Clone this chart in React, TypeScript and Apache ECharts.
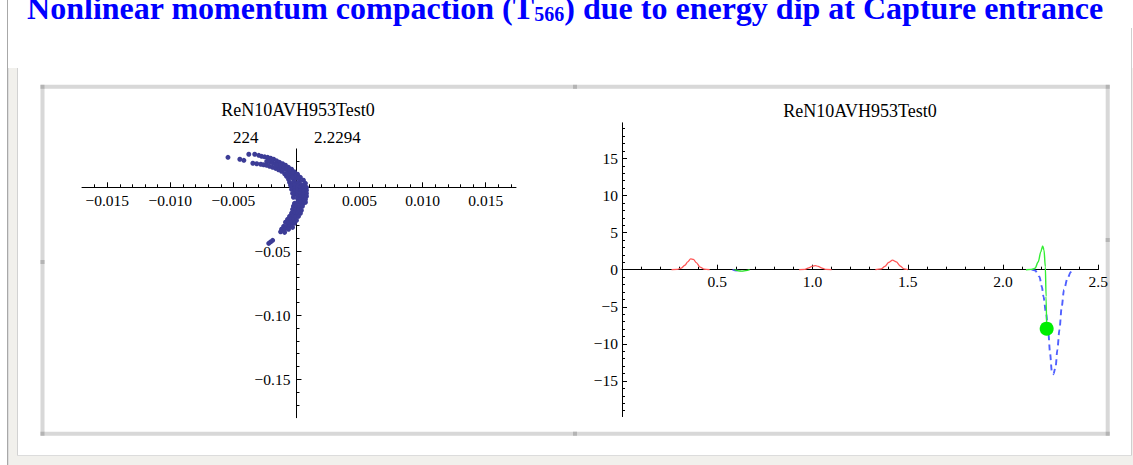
import React, { useEffect, useRef } from "react";
import * as echarts from "echarts";

const SERIF = "'Liberation Serif', 'Times New Roman', serif";

const PLOT_NAME = "ReN10AVH953Test0";
const TURN_LABEL = "224";
const POSITION_LABEL = "2.2294";

// Tick label positions
const zTicks = [-0.015, -0.01, -0.005, 0.005, 0.01, 0.015];
const deltaTicks = [-0.15, -0.1, -0.05];
const sTicks = [0.5, 1.0, 1.5, 2.0, 2.5];
const t566Ticks = [-15, -10, -5, 0, 5, 10, 15];

// Axis ranges
const zRange: [number, number] = [-0.017, 0.0174];
const deltaRange: [number, number] = [-0.18, 0.03];
const sRange: [number, number] = [0, 2.5];
const t566Range: [number, number] = [-19.8, 19.8];

// Longitudinal phase space of the bunch: [z, delta]
const particles: [number, number][] = [
  [-0.00543, 0.0234], [-0.00449, 0.0219], [-0.00417, 0.0211], [-0.00378, 0.0258],
  [-0.00331, 0.0258], [-0.00346, 0.0188],
  [-0.00299, 0.025], [-0.00276, 0.0242], [-0.00252, 0.0238], [-0.00228, 0.0234],
  [-0.00205, 0.0227], [-0.00181, 0.0219], [-0.00157, 0.0207], [-0.00134, 0.0195],
  [-0.0011, 0.0184], [-0.00087, 0.0172], [-0.00063, 0.0156], [-0.00039, 0.0141],
  [-0.00016, 0.0121], [0.00008, 0.0102], [0.00031, 0.0078], [0.00055, 0.0055],
  [0.00071, 0.0031],
  [-0.00315, 0.0184], [-0.00283, 0.018], [-0.0026, 0.0176], [-0.00236, 0.0172],
  [-0.00213, 0.0164], [-0.00189, 0.0156], [-0.00165, 0.0148], [-0.00142, 0.0137],
  [-0.00118, 0.0125], [-0.00094, 0.0105], [-0.00079, 0.0086], [-0.00063, 0.0063],
  [-0.00055, 0.0039], [-0.00047, 0.0016],
  [-0.00236, 0.0203], [-0.00213, 0.0199], [-0.00189, 0.0191], [-0.00165, 0.018],
  [-0.00142, 0.0168], [-0.00118, 0.0156], [-0.00094, 0.0141], [-0.00071, 0.0129],
  [-0.00047, 0.0117], [-0.00024, 0.0094], [0, 0.007], [0.00024, 0.0047],
  [-0.00102, 0.0164], [-0.00079, 0.0148], [-0.00055, 0.0137], [-0.00031, 0.0109],
  [-0.00047, 0.0086], [-0.00024, 0.0063], [-0.00071, 0.0102], [-0.00157, 0.0172],
  [-0.00197, 0.0211], [-0.0022, 0.0211], [-0.00126, 0.0176], [-0.00008, 0.0086],
  [0.00016, 0.0078], [-0.00031, 0.0078], [-0.00016, 0.0039], [0.00008, 0.0031],
  [0.00031, 0.0023], [-0.00031, 0.0031],
  [-0.00039, 0.0008], [-0.00039, -0.0016], [-0.00016, 0.0016], [-0.00016, -0.0008],
  [-0.00016, -0.0031], [-0.00016, -0.0055], [0.00008, 0.0008], [0.00008, -0.0016],
  [0.00008, -0.0039], [0.00008, -0.0063], [0.00008, -0.0086], [0.00031, 0],
  [0.00031, -0.0023], [0.00031, -0.0047], [0.00031, -0.007], [0.00031, -0.0094],
  [0.00055, 0.0016], [0.00055, -0.0008], [0.00055, -0.0031], [0.00055, -0.0055],
  [0.00055, -0.0078], [0.00055, -0.0102], [0.00079, 0], [0.00079, -0.0023],
  [0.00079, -0.0047], [0.00079, -0.007], [0.00071, -0.0094], [-0.00024, -0.0078],
  [-0.00031, -0.0047],
  [-0.00016, -0.0125], [0.00008, -0.0117], [0.00031, -0.0117], [0.00055, -0.0125],
  [0.00071, -0.0117], [-0.00024, -0.0148], [0, -0.0148], [0.00024, -0.0148],
  [0.00047, -0.0148], [-0.00031, -0.0172], [-0.00008, -0.018], [0.00016, -0.0172],
  [0.00039, -0.018], [-0.00039, -0.0203], [-0.00016, -0.0203], [0.00008, -0.0203],
  [0.00031, -0.0203], [-0.00055, -0.0227], [-0.00031, -0.0227], [-0.00008, -0.0234],
  [0.00016, -0.0227], [-0.00071, -0.025], [-0.00047, -0.025], [-0.00024, -0.0258],
  [0, -0.0258], [-0.00087, -0.0273], [-0.00063, -0.0281], [-0.00039, -0.0281],
  [-0.00016, -0.0281], [-0.00102, -0.0305], [-0.00079, -0.0305], [-0.00055, -0.0305],
  [-0.00031, -0.0313], [-0.00118, -0.0328], [-0.00094, -0.0328], [-0.00063, -0.0328],
  [-0.00126, -0.0348], [-0.00094, -0.0352], [-0.00189, -0.0414], [-0.00205, -0.0427],
  [-0.0022, -0.0438],
];

// T566 along the beamline: [s, value]
const redBumpA: [number, number][] = [
  [0.26, 0], [0.29, 0.05], [0.31, 0.2], [0.33, 0.6], [0.345, 1.05], [0.36, 1.45],
  [0.375, 1.4], [0.39, 0.95], [0.41, 0.35], [0.43, 0.08], [0.46, 0],
];
const redBumpB: [number, number][] = [
  [0.93, 0], [0.96, 0.05], [0.98, 0.25], [1.0, 0.48], [1.015, 0.55], [1.03, 0.45],
  [1.05, 0.2], [1.07, 0.05], [1.1, 0],
];
const redBumpC: [number, number][] = [
  [1.33, 0], [1.36, 0.1], [1.38, 0.45], [1.4, 1.0], [1.42, 1.3], [1.44, 1.05],
  [1.46, 0.5], [1.48, 0.12], [1.5, 0],
];
const greenSmall: [number, number][] = [
  [0.59, 0], [0.61, -0.15], [0.63, -0.2], [0.65, -0.12], [0.67, 0],
];
const blueSmall: [number, number][] = [[0.58, 0], [0.6, -0.12], [0.62, 0]];
const greenRise: [number, number][] = [
  [2.12, 0], [2.15, 0.05], [2.168, 0.2], [2.185, 1.08], [2.198, 2.4], [2.208, 3.2],
  [2.215, 2.65], [2.222, 0.4], [2.226, -3.6], [2.229, -7.95],
];
const blueDip: [number, number][] = [
  [2.15, 0], [2.168, -0.1], [2.191, -0.94], [2.204, -2.3], [2.212, -3.6], [2.226, -5.9],
  [2.238, -8.6], [2.247, -11.3], [2.256, -13.7], [2.264, -14.1], [2.276, -13.1],
  [2.285, -10.8], [2.296, -8.1], [2.308, -5.0], [2.32, -2.7], [2.338, -1.2],
  [2.356, -0.3], [2.366, 0],
];
const greenMarker: [number, number][] = [[2.229, -7.95]];

// Plot rectangles (pixels)
const leftGrid = { left: 82, top: 148.9, width: 434, height: 268.8 };
const rightGrid = { left: 622, top: 122.8, width: 476.3, height: 293.8 };

const minus = (s: string) => s.replace("-", "\u2212");

function makeFormatter(ticks: number[], digits: number) {
  return (v: number) => {
    if (!ticks.some((t) => Math.abs(t - v) < 1e-9)) return "";
    return minus(v.toFixed(digits));
  };
}

// Distance from the low edge of an axis to where the value 0 sits, so the
// perpendicular axis can be drawn through the origin like Mathematica's Axes.
function zeroOffset(range: [number, number], length: number) {
  const [lo, hi] = range;
  if (lo >= 0) return 0;
  return -((0 - lo) / (hi - lo)) * length;
}

function valueAxis(
  gridIndex: number,
  range: [number, number],
  splitNumber: number,
  ticks: number[],
  digits: number,
  margin: number,
  offset: number
) {
  return {
    type: "value",
    gridIndex,
    min: range[0],
    max: range[1],
    splitNumber,
    offset,
    z: 3,
    axisLine: { show: true, onZero: false, lineStyle: { color: "#000", width: 1 } },
    axisTick: {
      show: true,
      inside: true,
      length: 5,
      customValues: ticks,
      lineStyle: { color: "#000", width: 1 },
    },
    minorTick: { show: true, splitNumber: 5, length: 3, lineStyle: { color: "#000", width: 1 } },
    axisLabel: {
      show: true,
      customValues: ticks,
      formatter: makeFormatter(ticks, digits),
      margin,
      color: "#000",
      fontFamily: SERIF,
      fontSize: 15.5,
    },
    splitLine: { show: false },
  };
}

function handle(x: number, y: number) {
  return {
    type: "rect",
    silent: true,
    shape: { x: x - 2, y: y - 2, width: 4, height: 4 },
    style: { fill: "#b4b4b4" },
  };
}

function label(text: string, x: number, y: number, size: number) {
  return {
    type: "text",
    silent: true,
    x,
    y,
    style: {
      text,
      fill: "#000",
      font: `${size}px ${SERIF}`,
      align: "center",
      verticalAlign: "middle",
    },
  };
}

export default function App() {
  const ref = useRef<HTMLDivElement>(null);

  useEffect(() => {
    if (!ref.current) return;
    const chart = echarts.init(ref.current, undefined, { renderer: "svg" });

    const lineSeries = (data: [number, number][], color: string, width: number, dashed = false) => ({
      type: "line",
      xAxisIndex: 1,
      yAxisIndex: 1,
      data,
      z: 4,
      showSymbol: false,
      symbol: "none",
      smooth: 0.3,
      smoothMonotone: "x",
      lineStyle: { color, width, type: dashed ? [6, 4] : "solid" },
    });

    chart.setOption({
      animation: false,
      backgroundColor: "transparent",
      grid: [
        { ...leftGrid, outerBoundsMode: "none" },
        { ...rightGrid, outerBoundsMode: "none" },
      ],
      xAxis: [
        valueAxis(0, zRange, 7, zTicks, 3, 5, zeroOffset(deltaRange, leftGrid.height)),
        valueAxis(1, sRange, 5, sTicks, 1, 4, zeroOffset(t566Range, rightGrid.height)),
      ],
      yAxis: [
        valueAxis(0, deltaRange, 4, deltaTicks, 2, 6, zeroOffset(zRange, leftGrid.width)),
        valueAxis(1, t566Range, 8, t566Ticks, 0, 4, zeroOffset(sRange, rightGrid.width)),
      ],
      series: [
        {
          type: "scatter",
          xAxisIndex: 0,
          yAxisIndex: 0,
          data: particles,
          z: 4,
          symbol: "circle",
          symbolSize: 5,
          itemStyle: { color: "#3c3c96", opacity: 1 },
        },
        lineSeries(redBumpA, "#ff5555", 1.3),
        lineSeries(redBumpB, "#ff5555", 1.3),
        lineSeries(redBumpC, "#ff5555", 1.3),
        lineSeries(blueSmall, "#5a5aff", 1.6, true),
        lineSeries(greenSmall, "#22dd22", 1.3),
        lineSeries(blueDip, "#5060ff", 1.9, true),
        lineSeries(greenRise, "#33ee33", 1.4),
        {
          type: "scatter",
          xAxisIndex: 1,
          yAxisIndex: 1,
          data: greenMarker,
          z: 5,
          symbol: "circle",
          symbolSize: 14,
          itemStyle: { color: "#00ee00", opacity: 1 },
        },
      ],
      graphic: [
        { type: "rect", silent: true, z: -100, shape: { x: 8, y: 68, width: 1125, height: 397 }, style: { fill: "#f1f0ec" } },
        { type: "rect", silent: true, z: -99, shape: { x: 17, y: 28, width: 1114.5, height: 427.5 }, style: { fill: "#ffffff" } },
        { type: "line", silent: true, shape: { x1: 7.5, y1: 0, x2: 7.5, y2: 465 }, style: { stroke: "#a8a8a8", lineWidth: 1 } },
        { type: "line", silent: true, shape: { x1: 8.5, y1: 68, x2: 8.5, y2: 465 }, style: { stroke: "#dedede", lineWidth: 1 } },
        { type: "line", silent: true, shape: { x1: 17.5, y1: 68, x2: 17.5, y2: 455.5 }, style: { stroke: "#d2d2d2", lineWidth: 1 } },
        { type: "line", silent: true, shape: { x1: 17, y1: 455.5, x2: 1131.5, y2: 455.5 }, style: { stroke: "#dcdcdc", lineWidth: 1 } },
        { type: "line", silent: true, shape: { x1: 1131.5, y1: 28, x2: 1131.5, y2: 455.5 }, style: { stroke: "#cfcfcf", lineWidth: 1 } },
        {
          type: "rect",
          silent: true,
          shape: { x: 42.5, y: 86.8, width: 1065.2, height: 346.9 },
          style: { fill: "none", stroke: "#d8d8d8", lineWidth: 4 },
        },
        handle(42.5, 86.8),
        handle(575, 86.8),
        handle(1107.7, 86.8),
        handle(42.5, 262),
        handle(1107.7, 240),
        handle(42.5, 433.7),
        handle(575, 433.7),
        handle(1107.7, 433.7),
        label(PLOT_NAME, 298, 110, 18),
        label(PLOT_NAME, 860, 111, 18),
        label(TURN_LABEL, 245.8, 137.7, 17),
        label(POSITION_LABEL, 337.4, 137.7, 17),
        {
          type: "text",
          silent: true,
          x: 565,
          y: -8,
          style: {
            text: "{m|Nonlinear momentum compaction (T}{s|566}{m|) due to energy dip at Capture entrance}",
            align: "center",
            verticalAlign: "top",
            rich: {
              m: { fontFamily: SERIF, fontWeight: "bold", fontSize: 32, lineHeight: 32, fill: "#0000ff" },
              s: {
                fontFamily: SERIF,
                fontWeight: "bold",
                fontSize: 20,
                lineHeight: 16,
                verticalAlign: "bottom",
                fill: "#0000ff",
              },
            },
          },
        },
      ],
    });

    return () => chart.dispose();
  }, []);

  return (
    <div
      ref={ref}
      style={{ position: "absolute", left: 0, top: 0, width: 1133, height: 465 }}
    />
  );
}
